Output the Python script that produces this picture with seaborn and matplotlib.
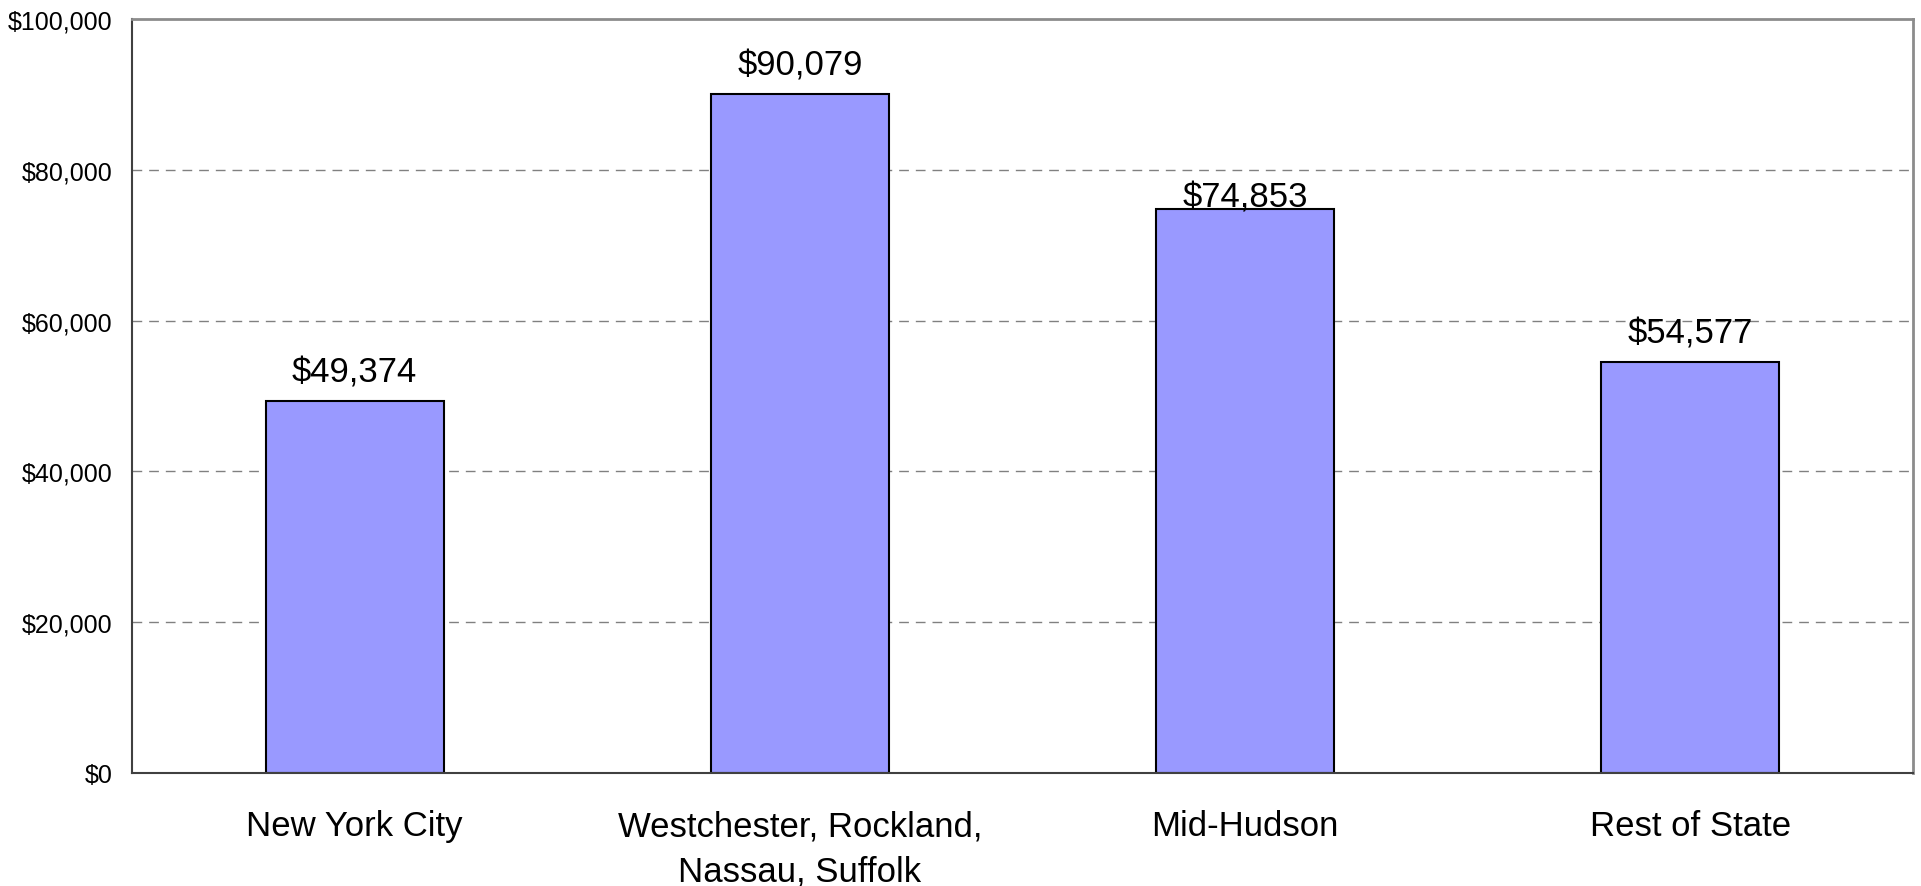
import seaborn as sns
import matplotlib.pyplot as plt
import pandas as pd
from matplotlib.ticker import FuncFormatter

# データ
regions = ['New York City', 'Westchester, Rockland,\nNassau, Suffolk', 'Mid-Hudson', 'Rest of State']
incomes = [49374, 90079, 74853, 54577]
y_ticks = [0, 20000, 40000, 60000, 80000, 100000]

df = pd.DataFrame({'Region': regions, 'Income': incomes})

sns.set_style('white')
plt.rcParams['font.family'] = ['Liberation Sans', 'DejaVu Sans']
plt.rcParams['text.color'] = 'black'
plt.rcParams['xtick.color'] = 'black'
plt.rcParams['ytick.color'] = 'black'

fig = plt.figure(figsize=(19.21, 8.87), dpi=100)
ax = fig.add_axes([0.0687, 0.1274, 0.9271, 0.8500])

sns.barplot(x='Region', y='Income', data=df, ax=ax, color='#9999FF', width=0.4,
            edgecolor='black', linewidth=1.5, saturation=1)

ax.set_xlim(-0.5, 3.5)
ax.set_ylim(0, 100000)
ax.set_yticks(y_ticks)
ax.yaxis.set_major_formatter(FuncFormatter(lambda v, p: f'${v:,.0f}'))
ax.set_xlabel('')
ax.set_ylabel('')

# グリッド線（破線）
for v in y_ticks[1:-1]:
    ax.axhline(v, color='#808080', linestyle=(0, (7, 5)), linewidth=1, zorder=0)

ax.tick_params(axis='y', length=0, pad=14, labelsize=18, labelcolor='black')
ax.tick_params(axis='x', length=0, pad=26, labelsize=25, labelcolor='black')
for lbl in ax.get_xticklabels():
    lbl.set_linespacing(1.48)

for side in ['left', 'bottom']:
    ax.spines[side].set_color('#404040')
    ax.spines[side].set_linewidth(1.5)
for side in ['top', 'right']:
    ax.spines[side].set_color('#8c8c8c')
    ax.spines[side].set_linewidth(2)

# 値ラベル
offsets = [20.5, 20.5, 8.5, 20.5]
for i, v in enumerate(incomes):
    ax.annotate(f'${v:,}', (i, v), xytext=(0, offsets[i]), textcoords='offset points',
                ha='center', va='center', fontsize=25, color='black')

plt.savefig('out.png', dpi=100)
